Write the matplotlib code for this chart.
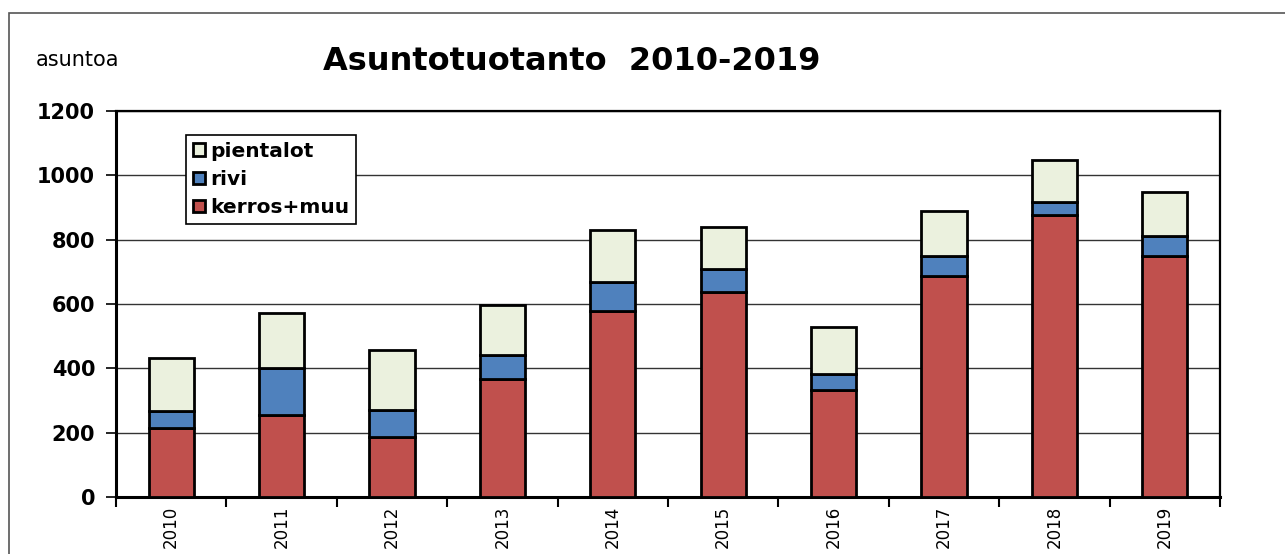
import matplotlib.pyplot as plt
import numpy as np
from matplotlib.patches import Rectangle

vuodet = ['2010', '2011', '2012', '2013', '2014', '2015', '2016', '2017', '2018', '2019']
kerros = [214, 255, 186, 367, 578, 637, 333, 687, 877, 749]
rivi = [53, 146, 84, 74, 90, 72, 49, 62, 40, 62]
pientalot = [165, 171, 187, 156, 162, 130, 146, 140, 131, 137]

plt.rcParams['font.family'] = ['DejaVu Sans']

fig = plt.figure(figsize=(12.85, 5.54), dpi=100)
ax = fig.add_axes([116 / 1285, 57 / 554, 1104 / 1285, 386 / 554])

# kehys koko kuvan ympärille
fig.patches.append(Rectangle((9 / 1285, -0.1), 1.1, 1.1 - 13 / 554,
                             transform=fig.transFigure, fill=False,
                             edgecolor='#555555', lw=1.2))

x = np.arange(len(vuodet))
w = 0.41
kerros = np.array(kerros)
rivi = np.array(rivi)
pientalot = np.array(pientalot)

b1 = ax.bar(x, kerros, w, color='#C0504D', edgecolor='black', lw=2, label='kerros+muu', zorder=3)
b2 = ax.bar(x, rivi, w, bottom=kerros, color='#4F81BD', edgecolor='black', lw=2, label='rivi', zorder=3)
b3 = ax.bar(x, pientalot, w, bottom=kerros + rivi, color='#EBF1DE', edgecolor='black', lw=2,
            label='pientalot', zorder=3)

ax.set_xlim(-0.5, len(vuodet) - 0.5)
ax.set_ylim(0, 1200)
ax.set_yticks(range(0, 1201, 200))
ax.set_yticklabels([str(v) for v in range(0, 1201, 200)], fontweight='bold', fontsize=15)
ax.yaxis.grid(True, color='#333333', lw=1)
ax.set_axisbelow(True)

ax.set_xticks(x)
ax.set_xticklabels(vuodet, rotation=90, fontsize=12)
ax.set_xticks(np.arange(-0.5, len(vuodet), 1), minor=True)
ax.tick_params(axis='x', which='major', length=0, pad=6)
ax.tick_params(axis='x', which='minor', length=7, width=1.5, direction='out')
ax.tick_params(axis='y', length=7, width=1.2, direction='out', pad=8)

for s in ['left', 'bottom']:
    ax.spines[s].set_linewidth(2.2)
for s in ['top', 'right']:
    ax.spines[s].set_linewidth(1.6)

leg = ax.legend(handles=[b3, b2, b1], loc='upper left', bbox_to_anchor=(0.0634, 0.938),
                prop={'weight': 'bold', 'size': 14.5}, frameon=True, fancybox=False,
                edgecolor='black', handlelength=0.6, handleheight=0.6, handletextpad=0.25,
                borderpad=0.35, labelspacing=0.45, borderaxespad=0)
leg.get_frame().set_linewidth(1.2)
leg.get_frame().set_alpha(1)

fig.text(572 / 1285, 1 - 62 / 554, 'Asuntotuotanto  2010-2019', ha='center', va='center',
         fontsize=23, fontweight='bold')
fig.text(36 / 1285, 1 - 60 / 554, 'asuntoa', ha='left', va='center', fontsize=15)

fig.savefig('out.png', dpi=100)
